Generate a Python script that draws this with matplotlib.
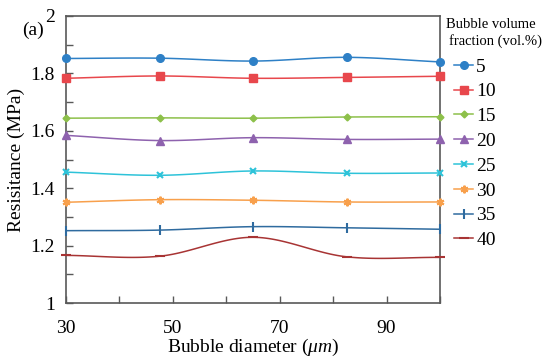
import numpy as np
import matplotlib.pyplot as plt
from matplotlib.ticker import FixedLocator, MultipleLocator

plt.rcParams['font.family'] = 'Liberation Serif'
plt.rcParams['mathtext.fontset'] = 'custom'
plt.rcParams['mathtext.it'] = 'Liberation Serif:italic'
plt.rcParams['mathtext.rm'] = 'Liberation Serif'

# Data
diameter = [30, 47.5, 65, 82.5, 100]
fractions = ['5', '10', '15', '20', '25', '30', '35', '40']
res_5 = [1.852, 1.853, 1.843, 1.856, 1.840]
res_10 = [1.783, 1.791, 1.783, 1.786, 1.790]
res_15 = [1.644, 1.645, 1.644, 1.648, 1.649]
res_20 = [1.584, 1.566, 1.576, 1.570, 1.571]
res_25 = [1.456, 1.445, 1.460, 1.452, 1.453]
res_30 = [1.351, 1.360, 1.358, 1.352, 1.352]
res_35 = [1.252, 1.254, 1.266, 1.262, 1.257]
res_40 = [1.166, 1.163, 1.229, 1.161, 1.159]
series = [res_5, res_10, res_15, res_20, res_25, res_30, res_35, res_40]
x_ticks = [30, 50, 70, 90]

colors = ['#2e80c6', '#e8474c', '#8dc04a', '#8e62ae', '#2ec3d9', '#f8a04c', '#2f6b9f', '#a83434']
markers = ['o', 's', 'D', '^', 'x', (6, 2, 0), '|', '_']
msizes = [5.5, 5.5, 3.5, 5.5, 4.5, 5.5, 6.5, 6.5]


def smooth(x, y, n=30):
    # Catmull-Rom style curve through the points (like Excel's smoothed line)
    x = np.asarray(x, float)
    y = np.asarray(y, float)
    px = np.concatenate([[2 * x[0] - x[1]], x, [2 * x[-1] - x[-2]]])
    py = np.concatenate([[2 * y[0] - y[1]], y, [2 * y[-1] - y[-2]]])
    xs, ys = [], []
    t = np.linspace(0, 1, n)
    for i in range(1, len(px) - 2):
        for p, out in ((px, xs), (py, ys)):
            p0, p1, p2, p3 = p[i - 1], p[i], p[i + 1], p[i + 2]
            m1 = (p2 - p0) / 2
            m2 = (p3 - p1) / 2
            h00 = 2 * t**3 - 3 * t**2 + 1
            h10 = t**3 - 2 * t**2 + t
            h01 = -2 * t**3 + 3 * t**2
            h11 = t**3 - t**2
            out.extend(h00 * p1 + h10 * m1 + h01 * p2 + h11 * m2)
    return np.array(xs), np.array(ys)


fig = plt.figure(figsize=(5.5, 3.61), dpi=100)
ax = fig.add_axes([66 / 550, 1 - 303 / 361, (440 - 66) / 550, (303 - 16) / 361])

handles = []
for vals, lab, c, m, ms in zip(series, fractions, colors, markers, msizes):
    mew = 1.5 if m in ('x', '|', '_', (6, 2, 0)) else 1
    sx, sy = smooth(diameter, vals)
    ax.plot(sx, sy, color=c, lw=1.1, clip_on=False)
    ax.plot(diameter, vals, ls='none', marker=m, color=c, ms=ms, mew=mew, clip_on=False, zorder=3)
    h, = ax.plot([], [], color=c, lw=1.1, marker=m, ms=ms, mew=mew, label=lab)
    handles.append(h)

ax.set_xlim(30, 100)
ax.set_ylim(1, 2)
ax.xaxis.set_major_locator(FixedLocator(x_ticks))
ax.xaxis.set_minor_locator(FixedLocator([40, 60, 80, 100]))
ax.yaxis.set_major_locator(MultipleLocator(0.2))
ax.yaxis.set_minor_locator(MultipleLocator(0.1))
ax.yaxis.set_major_formatter(plt.FuncFormatter(lambda v, p: f'{v:g}'))
ax.tick_params(which='both', direction='in', top=False, right=False, color='#595959')
ax.tick_params(which='major', length=5, width=1, labelsize=14)
ax.tick_params(which='minor', length=5, width=1)
ax.tick_params(axis='y', pad=8)
ax.tick_params(axis='x', pad=12)
for s in ax.spines.values():
    s.set_color('#595959')
    s.set_linewidth(1.2)

ax.set_xlabel(r'Bubble diameter ($\mu m$)', fontsize=14, labelpad=0)
ax.set_ylabel('Resisitance (MPa)', fontsize=14, labelpad=4)
fig.text(22 / 550, 1 - 30 / 361, '(a)', fontsize=14, va='center', ha='left')

leg = fig.legend(handles=handles, loc='upper left', bbox_to_anchor=(454 / 550, 1 - 58 / 361),
                 frameon=False, fontsize=14, handlelength=1.0, handletextpad=0.15,
                 labelspacing=0.37, borderaxespad=0, borderpad=0)
fig.text(446 / 550, 1 - 24 / 361, 'Bubble volume', fontsize=10.5, va='center', ha='left')
fig.text(449 / 550, 1 - 41 / 361, 'fraction (vol.%)', fontsize=10.5, va='center', ha='left')

fig.savefig('out.png', dpi=100)
